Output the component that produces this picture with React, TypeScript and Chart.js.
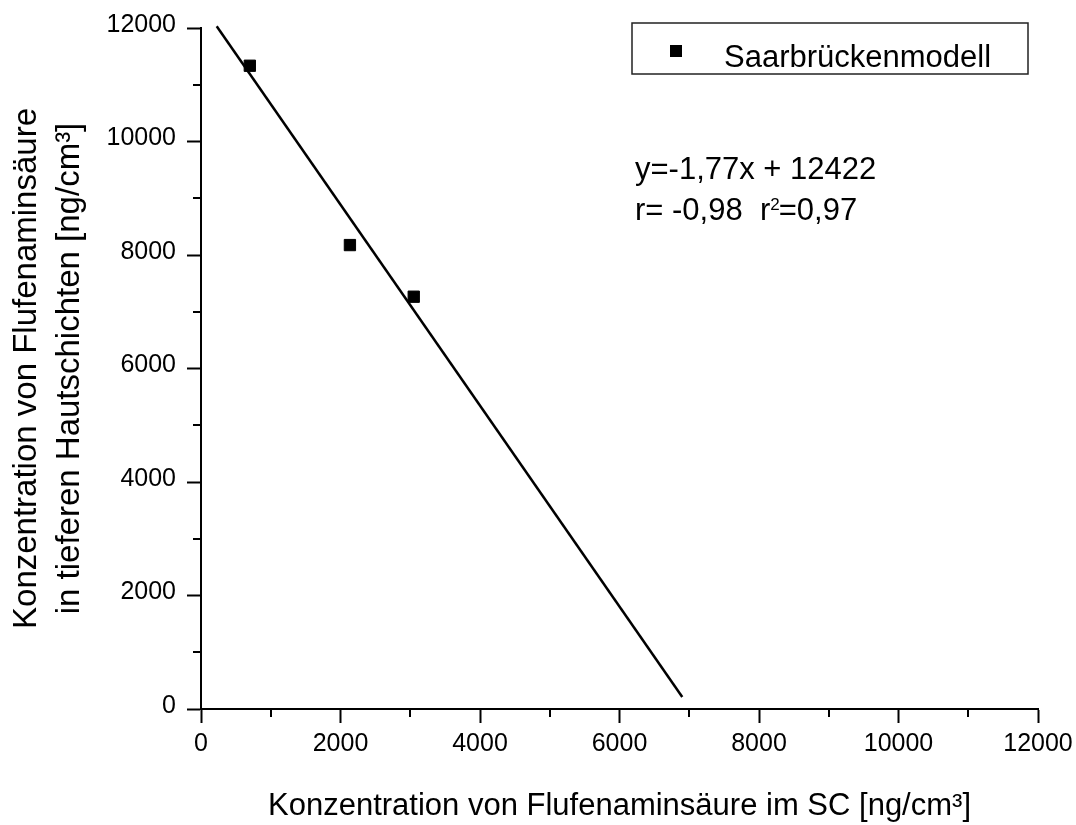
import React, { useEffect, useRef } from 'react';
import { Chart, registerables } from 'chart.js';

Chart.register(...registerables);

// ---- data ----
const seriesLabel = 'Saarbrückenmodell';
const sampleX = [700, 2135, 3050];
const sampleY = [11335, 8175, 7265];
const fitLineX = [225, 6900];
const fitLineY = [12030, 210];

const axisMin = 0;
const axisMax = 12000;
const majorStep = 2000;
const minorTicks = [1000, 3000, 5000, 7000, 9000, 11000];

const xTitle = 'Konzentration von Flufenaminsäure im SC [ng/cm³]';
const yTitle = ['Konzentration von Flufenaminsäure', 'in tieferen Hautschichten [ng/cm³]'];
const equationText = 'y=-1,77x + 12422';
const corrParts = ['r= -0,98  r', '2', '=0,97'];

const SANS = "'Liberation Sans', Arial, Helvetica, sans-serif";

function hasFont(name: string): boolean {
  const c = document.createElement('canvas').getContext('2d');
  if (!c) return false;
  c.font = '40px monospace';
  const w1 = c.measureText('10000 abcdefg').width;
  c.font = `40px '${name}', monospace`;
  const w2 = c.measureText('10000 abcdefg').width;
  return Math.abs(w1 - w2) > 0.5;
}

export default function App() {
  const canvasRef = useRef<HTMLCanvasElement | null>(null);

  useEffect(() => {
    const canvas = canvasRef.current;
    if (!canvas) return;

    const narrow = hasFont('Liberation Sans Narrow');
    const tickFont = narrow
      ? { family: "'Liberation Sans Narrow', 'Arial Narrow', sans-serif", size: 28, lineHeight: 1 }
      : { family: SANS, size: 25, lineHeight: 1 };

    const overlay = {
      id: 'overlay',
      beforeDraw(chart: any) {
        const { ctx } = chart;
        ctx.save();
        ctx.fillStyle = '#ffffff';
        ctx.fillRect(0, 0, chart.width, chart.height);
        ctx.restore();
      },
      afterDraw(chart: any) {
        const { ctx, chartArea } = chart;
        const xs = chart.scales.x;
        const ys = chart.scales.y;
        ctx.save();
        // minor ticks
        ctx.strokeStyle = '#000';
        ctx.lineWidth = 2;
        ctx.beginPath();
        minorTicks.forEach((v) => {
          const px = Math.round(xs.getPixelForValue(v));
          ctx.moveTo(px, chartArea.bottom);
          ctx.lineTo(px, chartArea.bottom + 8);
          const py = Math.round(ys.getPixelForValue(v));
          ctx.moveTo(chartArea.left, py);
          ctx.lineTo(chartArea.left - 8, py);
        });
        ctx.stroke();

        // legend box
        const bx = chartArea.right - 406;
        const by = chartArea.top - 5;
        const bw = 396;
        const bh = 51;
        ctx.lineWidth = 1.5;
        ctx.strokeStyle = '#222';
        ctx.strokeRect(bx, by, bw, bh);
        ctx.fillStyle = '#000';
        ctx.fillRect(bx + 44 - 6, by + 28 - 6, 12, 12);
        ctx.font = `31px ${SANS}`;
        ctx.textBaseline = 'alphabetic';
        ctx.textAlign = 'left';
        ctx.fillText(chart.data.datasets[0].label, bx + 92, by + 44);

        // regression annotation
        const ax = chartArea.left + 434;
        const ay1 = chartArea.top + 151;
        const ay2 = chartArea.top + 192;
        ctx.font = `31px ${SANS}`;
        ctx.fillText(equationText, ax, ay1);
        let cx = ax;
        ctx.fillText(corrParts[0], cx, ay2);
        cx += ctx.measureText(corrParts[0]).width;
        ctx.font = `17px ${SANS}`;
        ctx.fillText(corrParts[1], cx, ay2 - 10);
        cx += ctx.measureText(corrParts[1]).width - 1;
        ctx.font = `31px ${SANS}`;
        ctx.fillText(corrParts[2], cx, ay2);
        ctx.restore();
      },
    };

    const plainTick = (v: any) => String(v);

    const chart = new Chart(canvas, {
      type: 'scatter',
      data: {
        datasets: [
          {
            label: seriesLabel,
            data: sampleX.map((x, i) => ({ x, y: sampleY[i] })),
            pointStyle: 'rect',
            pointRadius: 8,
            pointBorderWidth: 1,
            backgroundColor: '#000',
            borderColor: '#000',
            showLine: false,
          },
          {
            label: 'fit',
            data: fitLineX.map((x, i) => ({ x, y: fitLineY[i] })),
            showLine: true,
            pointRadius: 0,
            borderColor: '#000',
            borderWidth: 2.5,
            clip: false as any,
          },
        ],
      },
      options: {
        animation: false,
        responsive: false,
        devicePixelRatio: 1,
        layout: { padding: { left: 0, right: 38, top: 28, bottom: 0 } },
        plugins: {
          legend: { display: false },
          tooltip: { enabled: false },
        },
        scales: {
          x: {
            type: 'linear',
            min: axisMin,
            max: axisMax,
            afterFit: (s: any) => {
              s.height = 116;
              s.paddingLeft = 0;
              s.paddingRight = 0;
            },
            ticks: {
              stepSize: majorStep,
              color: '#000',
              font: tickFont,
              padding: 21.5 - tickFont.size / 2,
              maxRotation: 0,
              callback: plainTick,
            },
            grid: {
              drawOnChartArea: false,
              drawTicks: true,
              tickLength: 14,
              tickWidth: 2,
              color: '#000',
            },
            border: { display: true, width: 2, color: '#000' },
            title: {
              display: true,
              text: xTitle,
              color: '#000',
              font: { family: SANS, size: 31, lineHeight: 37 / 31 },
              padding: { top: 0, bottom: 0 },
            },
          },
          y: {
            type: 'linear',
            min: axisMin,
            max: axisMax,
            afterFit: (s: any) => {
              s.width = 201;
              s.paddingTop = 0;
              s.paddingBottom = 0;
            },
            ticks: {
              stepSize: majorStep,
              color: '#000',
              font: tickFont,
              padding: 11,
              labelOffset: -3,
              callback: plainTick,
            },
            grid: {
              drawOnChartArea: false,
              drawTicks: true,
              tickLength: 14,
              tickWidth: 2,
              color: '#000',
            },
            border: { display: true, width: 2, color: '#000' },
            title: {
              display: true,
              text: yTitle,
              color: '#000',
              font: { family: SANS, size: 33, lineHeight: 43.5 / 33 },
              padding: { top: 5, bottom: 0 },
            },
          },
        },
      },
      plugins: [overlay],
    } as any);

    return () => {
      chart.destroy();
    };
  }, []);

  return (
    <div style={{ position: 'absolute', left: 0, top: 0, width: 1076, height: 825, background: '#fff' }}>
      <canvas ref={canvasRef} width={1076} height={825} style={{ display: 'block', width: 1076, height: 825 }} />
    </div>
  );
}
